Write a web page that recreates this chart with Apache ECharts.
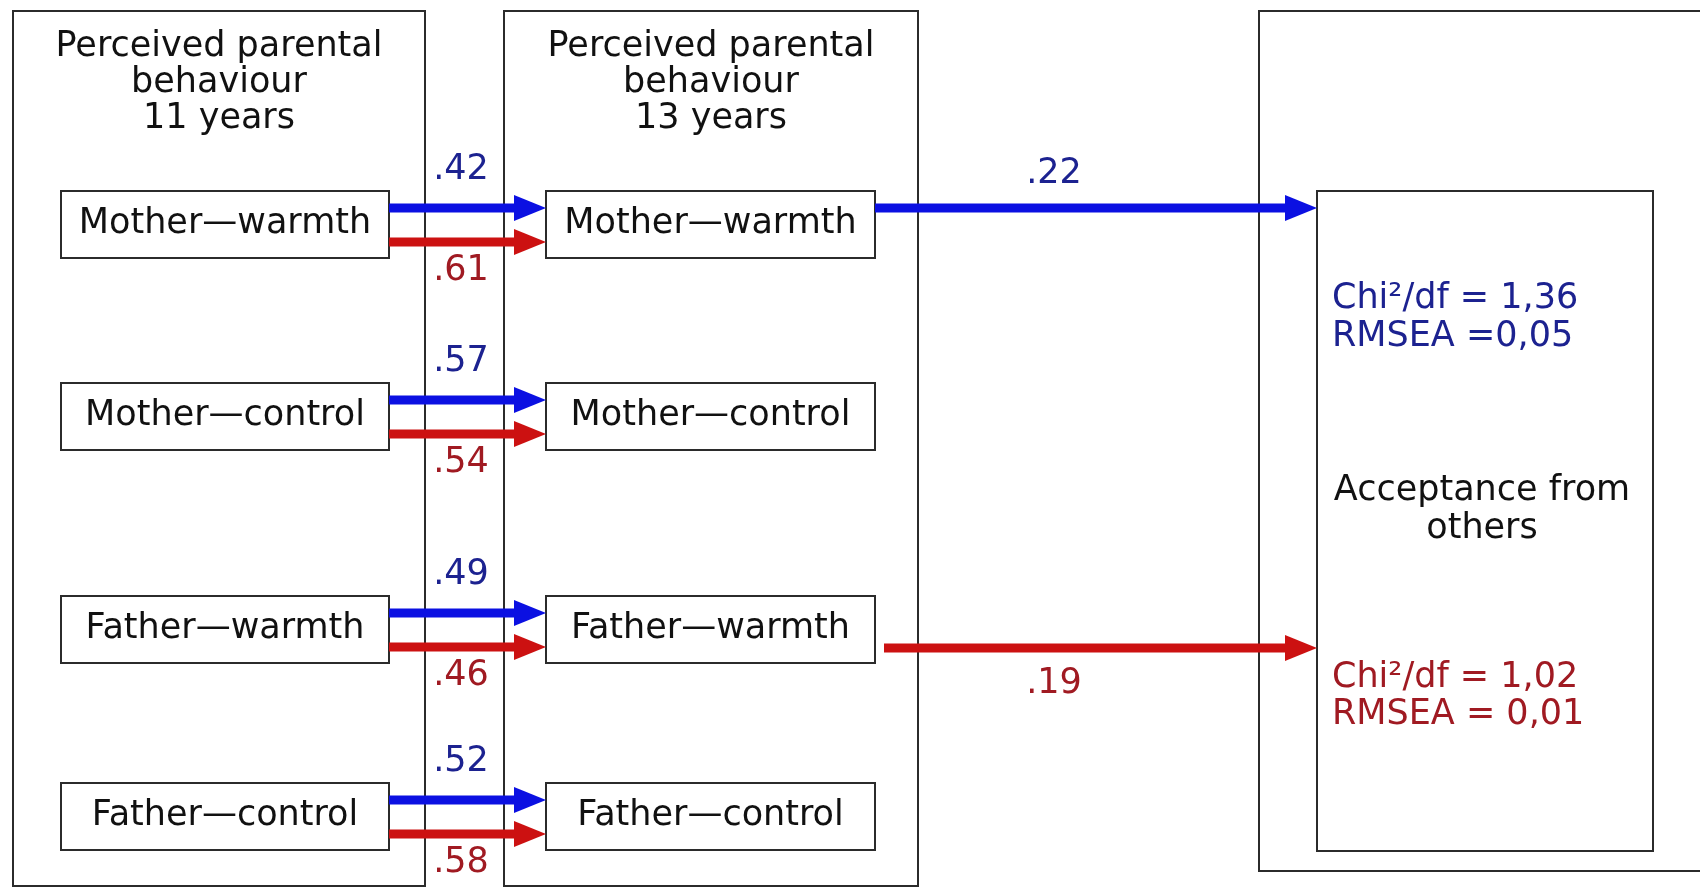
<!DOCTYPE html>
<html>
<head>
<meta charset="utf-8">
<title>Parental behaviour path model</title>
<script src="https://cdn.jsdelivr.net/npm/echarts@6/dist/echarts.min.js"></script>
<style>
    html, body {margin: 0; padding: 0; background: #fff;}
    #main {width: 1700px; height: 888px;}
</style>
</head>
<body>
<div id="main"></div>
<script>
// 数据
let variables = ['Mother\u2014warmth', 'Mother\u2014control', 'Father\u2014warmth', 'Father\u2014control'];
let pathBlue = ['.42', '.57', '.49', '.52'];
let pathRed = ['.61', '.54', '.46', '.58'];
let panelTitles = [
    ['Perceived parental', 'behaviour', '11 years'],
    ['Perceived parental', 'behaviour', '13 years']
];
let outcomeName = ['Acceptance from', 'others'];
let fitBlue = ['Chi\u00b2/df = 1,36', 'RMSEA =0,05'];
let fitRed = ['Chi\u00b2/df = 1,02', 'RMSEA = 0,01'];
let outcomeFrom = [0, 2];          // 13-year measure that predicts the outcome
let outcomeCoef = ['.22', '.19'];
let outcomeGroup = ['blue', 'red'];

// 布局 (diagram units = canvas pixels)
let rowTop = [191, 383, 596, 783];
let boxH = 67;
let col11 = [61, 389], col13 = [546, 875];
let frames = [[13, 11, 425, 886], [504, 11, 918, 886], [1259, 11, 1706, 871]];
let outBox = [1317, 191, 1653, 851];
let outStart = [875, 884];

let colors = {
    blue: {line: '#0b10e2', text: '#1c2290'},
    red: {line: '#cc1111', text: '#a01a22'}
};
let FONT = '35px "DejaVu Sans"';
let SHAFT = 9, HEAD_LEN = 32, HEAD_HALF = 13;

function txt(api, x, y, text, fill, align) {
    let p = api.coord([x, y]);
    return {
        type: 'text', x: p[0], y: p[1], z2: 10,
        style: {
            text: text, fill: fill || '#111', font: FONT,
            align: align || 'center', verticalAlign: 'middle',
            textAlign: align || 'center', textVerticalAlign: 'middle'
        }
    };
}

function rect(api, x0, y0, x1, y1, fill) {
    let a = api.coord([x0, y0]), b = api.coord([x1, y1]);
    return {
        type: 'rect',
        shape: {x: a[0], y: a[1], width: b[0] - a[0], height: b[1] - a[1]},
        style: {fill: fill || 'none', stroke: '#2b2b2b', lineWidth: 2}
    };
}

function arrow(api, x0, x1, y, color) {
    let a = api.coord([x0, y]), b = api.coord([x1 - HEAD_LEN, y]), tip = api.coord([x1, y]);
    return [
        {type: 'line', z2: 5, shape: {x1: a[0], y1: a[1], x2: b[0] + 1, y2: b[1]},
            style: {stroke: color, lineWidth: SHAFT}},
        {type: 'polygon', z2: 5, shape: {points: [[b[0], b[1] - HEAD_HALF], tip, [b[0], b[1] + HEAD_HALF]]},
            style: {fill: color}}
    ];
}

let myChart = echarts.init(document.getElementById('main'));

let option = {
    animation: false,
    grid: {left: 0, right: 0, top: 0, bottom: 0},
    xAxis: {type: 'value', min: 0, max: 1700, show: false},
    yAxis: {type: 'value', min: 0, max: 888, inverse: true, show: false},
    series: [
        // 外框 + 标题
        {
            type: 'custom', name: 'panels', clip: false,
            data: frames.map((f, i) => [i, 0]),
            renderItem: function (params, api) {
                let i = params.dataIndex, f = frames[i];
                let children = [rect(api, f[0], f[1], f[2], f[3])];
                if (panelTitles[i]) {
                    let cx = (f[0] + f[2]) / 2;
                    panelTitles[i].forEach((line, k) => children.push(txt(api, cx, 47 + k * 36, line)));
                }
                return {type: 'group', children: children};
            }
        },
        // 测量框
        {
            type: 'custom', name: 'measures', clip: false,
            data: variables.map((v, i) => [i, rowTop[i]]),
            renderItem: function (params, api) {
                let i = params.dataIndex, top = rowTop[i], name = variables[i];
                let children = [];
                [col11, col13].forEach(c => {
                    children.push(rect(api, c[0], top, c[1], top + boxH, '#fff'));
                    children.push(txt(api, (c[0] + c[1]) / 2, top + boxH / 2 - 1, name));
                });
                return {type: 'group', children: children};
            }
        },
        // 11 -> 13 稳定路径
        {
            type: 'custom', name: 'stability', clip: false,
            data: variables.map((v, i) => [i, rowTop[i]]),
            renderItem: function (params, api) {
                let i = params.dataIndex, top = rowTop[i];
                let mid = 461;
                let children = []
                    .concat(arrow(api, col11[1], col13[0], top + 17, colors.blue.line))
                    .concat(arrow(api, col11[1], col13[0], top + 51, colors.red.line));
                children.push(txt(api, mid, top - 21, pathBlue[i], colors.blue.text));
                children.push(txt(api, mid, top + 80, pathRed[i], colors.red.text));
                return {type: 'group', children: children};
            }
        },
        // 结果框
        {
            type: 'custom', name: 'outcome', clip: false,
            data: [[0, 0]],
            renderItem: function (params, api) {
                let children = [rect(api, outBox[0], outBox[1], outBox[2], outBox[3], '#fff')];
                let cx = (outBox[0] + outBox[2]) / 2 - 3;
                outcomeName.forEach((l, k) => children.push(txt(api, cx, 491 + k * 38, l)));
                fitBlue.forEach((l, k) => children.push(txt(api, 1332, 299 + k * 38, l, colors.blue.text, 'left')));
                fitRed.forEach((l, k) => children.push(txt(api, 1332, 678 + k * 37, l, colors.red.text, 'left')));
                return {type: 'group', children: children};
            }
        },
        // 13 -> 结果路径
        {
            type: 'custom', name: 'prediction', clip: false,
            data: outcomeFrom.map((r, i) => [i, rowTop[r]]),
            renderItem: function (params, api) {
                let i = params.dataIndex, top = rowTop[outcomeFrom[i]];
                let c = colors[outcomeGroup[i]];
                let y = outcomeGroup[i] === 'blue' ? top + 17 : top + 52;
                let ly = outcomeGroup[i] === 'blue' ? top - 17 : top + 88;
                let children = arrow(api, outStart[i], outBox[0], y, c.line);
                children.push(txt(api, 1054, ly, outcomeCoef[i], c.text));
                return {type: 'group', children: children};
            }
        }
    ]
};
myChart.setOption(option);
</script>
</body>
</html>
